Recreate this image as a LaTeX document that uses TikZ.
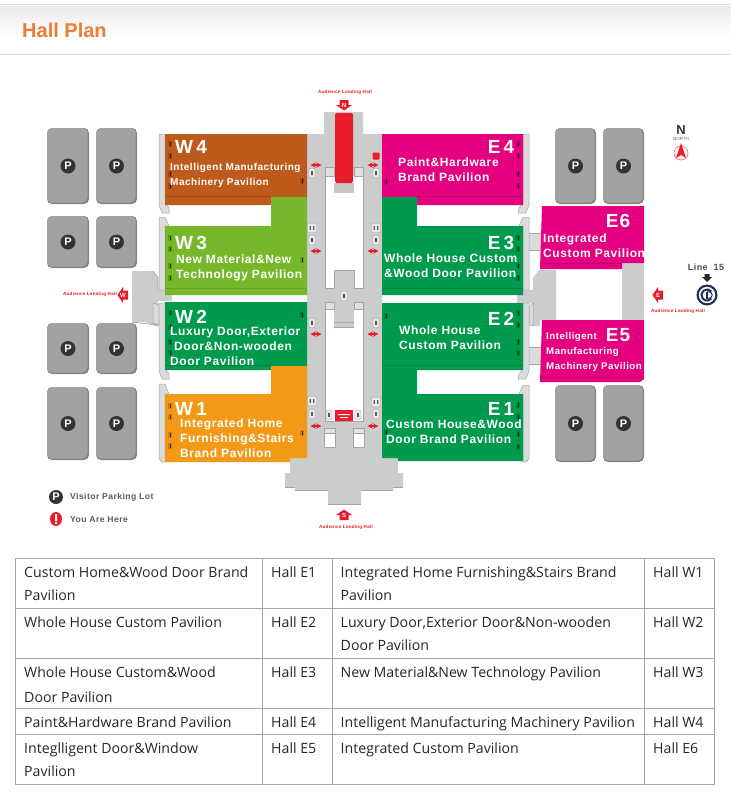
\documentclass[tikz,border=0pt]{standalone}
\usepackage{fontspec}
\usetikzlibrary{positioning}
\setmainfont{Liberation Sans}
\newfontfamily\mapfont[LetterSpace=5]{Liberation Sans}
\newfontfamily\tabfont{Open Sans}
\definecolor{hallW4}{HTML}{BE5B1C}
\definecolor{hallW3}{HTML}{76B82A}
\definecolor{hallgreen}{HTML}{009A4E}
\definecolor{hallW1}{HTML}{F29A17}
\definecolor{hallpink}{HTML}{E4007F}
\definecolor{mapred}{HTML}{E81C2A}
\definecolor{floorgrey}{HTML}{CBCCCC}
\definecolor{edgegrey}{HTML}{A3A4A4}
\definecolor{lotgrey}{HTML}{A2A2A2}
\definecolor{navyline}{HTML}{1D2D5C}
\definecolor{headorange}{HTML}{EE7C35}
\tikzset{
  hallname/.style={text=white,anchor=center,inner sep=0pt,font=\mapfont\bfseries\fontsize{19}{19}\selectfont},
  halltext/.style={text=white,anchor=west,align=left,inner sep=0pt,font=\mapfont\bfseries\fontsize{12}{15}\selectfont},
  parkmark/.style={circle,fill=black!80,text=white,inner sep=0pt,minimum size=15pt,font=\bfseries\fontsize{11}{11}\selectfont},
  liftbox/.style={rounded corners=1pt,fill=black!8,draw=edgegrey,line width=.4pt,minimum width=6pt,minimum height=9pt,inner sep=0pt},
  landing/.style={text=mapred,inner sep=0pt,font=\mapfont\bfseries\fontsize{4.6}{5}\selectfont},
  legendtext/.style={text=black!65,anchor=west,inner sep=0pt,font=\mapfont\bfseries\fontsize{8.6}{9}\selectfont},
  cell/.style={anchor=base west,inner sep=0pt,text=black!85,font=\tabfont\fontsize{14.15}{16}\selectfont},
  slab/.style={fill=black!14,draw=edgegrey,line width=.5pt},
  roofcap/.style={fill=black!12,draw=edgegrey,line width=.5pt},
}
% one parking lot with its mark
\newcommand{\parklot}[5]{
  \fill[lotgrey!82!black,rounded corners=5pt] (#1,#2) rectangle (#3,#4);
  \fill[lotgrey,rounded corners=5pt] (#1,#2) rectangle (#3-1.5,#4-1.5);
  \node[parkmark] (#5) at ({(#1+#3)/2},{(#2+#4)/2}) {P};
}
% entrance arrow with its letter
\newcommand{\gatemark}[4]{
  \begin{scope}[shift={(#1,#2)},rotate=#3]
    \fill[mapred] (-5,-4.5)--(0,-4.5)--(0,-8)--(5.5,0)--(0,8)--(0,4.5)--(-5,4.5)--cycle;
  \end{scope}
  \node[text=white,inner sep=0pt,font=\bfseries\fontsize{6}{6}\selectfont] (gate#4) at (#1,#2) {#4};
}
\begin{document}
\begin{tikzpicture}[x=1pt,y=-1pt,>=stealth,line join=round]
\useasboundingbox (0,0) rectangle (731,798);
% page head
\shade[top color=black!8,bottom color=white] (0,6) rectangle (731,36);
\draw[black!14,line width=1pt] (0,4.5)--(731,4.5);
\draw[black!14,line width=.8pt] (0,54)--(731,54);
\node[anchor=west,inner sep=0pt,text=headorange,font=\fontsize{20}{20}\bfseries\selectfont] (title) at (22,30) {Hall Plan};
% floor
\fill[floorgrey] (324,112)--(363,112)--(363,134)--(382,134)--(382,458)--(398,458)--(398,473)--(403,473)--(403,487)--(393,487)--(393,490)--(361,490)--(361,504)--(328,504)--(328,490)--(295,490)--(295,487)--(285,487)--(285,473)--(290,473)--(290,458)--(307,458)--(307,134)--(324,134)--cycle;
\draw[edgegrey,line width=1pt] (285,487)--(295,487) (295,490)--(328,490) (328,504)--(361,504) (361,490)--(393,490) (393,487)--(403,487);
\fill[floorgrey] (132,271)--(153,271)--(158,278)--(158,289)--(172,289)--(172,301)--(158,301)--(158,327)--(145,322)--(132,322)--cycle;
\draw[edgegrey,line width=.8pt] (132,322)--(157,325) (153,271)--(158,278)--(158,289);
\draw[slab] (153,303)--(159,305)--(159,325)--(153,323)--cycle;
\fill[floorgrey] (556,270)--(539,270)--(533,278)--(533,290)--(517,290)--(517,303)--(533,303)--(533,326)--(540,326)--(540,320)--(556,320)--cycle;
\draw[slab] (533,303)--(529,307)--(529,325)--(533,326)--cycle;
\fill[floorgrey] (622,263) rectangle (644,320);
\draw[slab] (528,233) rectangle (541,250);
\draw[slab] (528,347) rectangle (541,364);
% voids in the middle
\fill[white] (325,176) rectangle (363,288);
\fill[white] (325,309) rectangle (363,421);
\draw[edgegrey,line width=.5pt] (325,176)--(325,288)--(334,288) (363,176)--(363,288)--(354,288);
\draw[edgegrey,line width=.5pt] (325,309)--(325,421)--(363,421)--(363,309);
\fill[floorgrey] (334,270) rectangle (354,288) (334,300) rectangle (354,327);
\draw[edgegrey,line width=.5pt] (334,288)--(334,270)--(354,270)--(354,288) (334,327)--(354,327) (334,322)--(354,322);
\draw[roofcap] (325,167) rectangle (334,176) (354,167) rectangle (363,176);
\draw[roofcap] (325,302) rectangle (334,309) (354,302) rectangle (363,309);
\draw[roofcap] (324,428) rectangle (335,433) (353,428) rectangle (364,433);
\fill[white] (324,433) rectangle (335,447) (353,433) rectangle (364,447);
\draw[edgegrey,line width=.5pt] (324,433) rectangle (335,447) (353,433) rectangle (364,447);
\fill[black!22] (334,183) rectangle (354,193);
\fill[mapred,rounded corners=1.5pt] (335,113) rectangle (353,183);
% red sign at the south end
\fill[mapred] (335,410) rectangle (353,421);
\fill[white] (338,414) rectangle (350,415.2) (340,417) rectangle (348,418.2);
% side slabs of the halls
\draw[slab] (159,134)--(165,134)--(165,203)--(169,208)--(169,213)--(162,213)--(159,205)--cycle;
\draw[slab] (159,217)--(165,217)--(169,226)--(165,226)--(165,290)--(159,290)--cycle;
\draw[slab] (159,303)--(165,303)--(165,369)--(169,374)--(169,379)--(162,379)--(159,371)--cycle;
\draw[slab] (159,384)--(165,384)--(169,394)--(165,394)--(165,462)--(162,462)--(159,459)--cycle;
\draw[slab] (529,134)--(523,134)--(523,203)--(519,208)--(518,213)--(526,213)--(529,205)--cycle;
\draw[slab] (529,217)--(523,217)--(519,226)--(523,226)--(523,290)--(529,290)--cycle;
\draw[slab] (529,303)--(523,303)--(523,369)--(519,374)--(518,379)--(526,379)--(529,371)--cycle;
\draw[slab] (529,385)--(523,385)--(519,394)--(523,394)--(523,462)--(526,462)--(529,459)--cycle;
% west halls
\fill[hallW4] (165,134)--(307,134)--(307,197)--(271,197)--(271,205)--(165,205)--cycle;
\draw[hallW4!85!black,line width=.6pt] (165,196)--(271,196);
\fill[hallW3] (271,197)--(307,197)--(307,295)--(165,295)--(165,226)--(271,226)--cycle;
\draw[hallW3!85!black,line width=.6pt] (165,288)--(307,288);
\fill[hallgreen] (165,302)--(307,302)--(307,366)--(271,366)--(271,370)--(165,370)--cycle;
\draw[hallgreen!85!black,line width=.6pt] (165,365)--(271,365);
\fill[hallW1] (271,366)--(307,366)--(307,458)--(290,458)--(290,462)--(165,462)--(165,394)--(271,394)--cycle;
% east halls
\fill[hallpink] (382,134)--(523,134)--(523,205)--(417,205)--(417,197)--(382,197)--cycle;
\draw[hallpink!85!black,line width=.6pt] (417,196)--(523,196);
\fill[hallgreen] (382,197)--(417,197)--(417,226)--(523,226)--(523,295)--(382,295)--cycle;
\draw[hallgreen!85!black,line width=.6pt] (382,288)--(523,288);
\fill[hallgreen] (382,303)--(523,303)--(523,370)--(417,370)--(417,365)--(382,365)--cycle;
\fill[hallgreen] (382,365)--(417,365)--(417,394)--(523,394)--(523,461)--(398,461)--(398,458)--(382,458)--cycle;
\draw[hallgreen!85!black,line width=.6pt] (382,365)--(523,365);
\fill[hallpink] (542,206)--(644,206)--(644,263)--(622,263)--(622,269)--(540,269)--cycle;
\draw[hallpink!85!black,line width=.6pt] (540,263)--(622,263);
\fill[hallpink] (542,320)--(644,320)--(644,379)--(640,382)--(540,382)--cycle;
\draw[hallpink!85!black,line width=.6pt] (540,377)--(642,377);
% small marks along the hall walls
\foreach \mx/\my in {170/144,170/156,170/174,170/186,302/181,170/238,170/249,170/266,170/278,302/260,170/313,170/327,170/342,170/353,302/315,170/406,170/417,170/435,170/446,302/433,518/144,518/156,518/174,518/186,386/182,518/238,518/249,518/266,518/278,518/313,518/325,518/342,518/353,386/316,518/405,518/417,518/434,518/447,386/432}{
  \fill[black,opacity=.18] (\mx-2,\my-3) rectangle (\mx+2,\my+3);
  \fill[black,opacity=.6] (\mx-.5,\my-2) rectangle (\mx+.5,\my+2);
}
\foreach \lx/\ly in {312/173,312/240,344/296,312/323,312/414,329/415,358/415,376/173,376/240,376/323,376/414}{
  \node[liftbox] (lift\lx\ly) at (\lx,\ly) {};
  \fill[black!65] (\lx-.6,\ly-2) rectangle (\lx+.6,\ly+2);
}
\foreach \lx/\ly in {312/228,312/401,376/228,376/402}{
  \node[liftbox,minimum width=9pt] (lift\lx\ly) at (\lx,\ly) {};
  \fill[black!65] (\lx-2.4,\ly-2) rectangle (\lx-1.2,\ly+2) (\lx+1.2,\ly-2) rectangle (\lx+2.4,\ly+2);
}
\node[fill=mapred,rounded corners=1pt,minimum size=7pt,inner sep=0pt] (toilet) at (376,156) {};
% passages
\foreach \ax in {316,373}
  \foreach \ay in {165,251,334,426}
    \draw[<->,mapred,line width=1.3pt] (\ax-5.5,\ay)--(\ax+5.5,\ay);
% hall names
\node[hallname] (W4) at (191,147) {W\,4};
\node[hallname] (W3) at (191,243) {W\,3};
\node[hallname] (W2) at (191,316.5) {W\,2};
\node[hallname] (W1) at (191,409) {W\,1};
\node[hallname] (E4) at (501,147) {E\,4};
\node[hallname] (E3) at (501,243) {E\,3};
\node[hallname] (E2) at (501,319) {E\,2};
\node[hallname] (E1) at (501,409) {E\,1};
\node[hallname] (E6) at (618,221) {E6};
\node[hallname] (E5) at (618,335) {E5};
% hall texts
\node[halltext,font=\mapfont\bfseries\fontsize{10}{15}\selectfont] (textW4) at (170,175.5) {Intelligent Manufacturing\\Machinery Pavilion};
\node[halltext] (textW3) at (176,267.5) {New Material\&New\\Technology Pavilion};
\node[halltext] (textW2) at (170,346.5) {Luxury Door,Exterior\\\hspace{4pt}Door\&Non-wooden\\Door Pavilion};
\node[halltext] (textW1) at (180,438) {Integrated Home\\Furnishing\&Stairs\\Brand Pavilion};
\node[halltext] (textE4) at (398,169.5) {Paint\&Hardware\\Brand Pavilion};
\node[halltext] (textE3) at (384,265.5) {Whole House Custom\\\&Wood Door Pavilion};
\node[halltext] (textE2) at (399,337.5) {Whole House\\Custom Pavilion};
\node[halltext] (textE1) at (386,431.5) {Custom House\&Wood\\Door Brand Pavilion};
\node[halltext] (textE6) at (543,245.5) {Integrated\\Custom Pavilion};
\node[halltext,font=\mapfont\bfseries\fontsize{9.7}{15}\selectfont] (textE5) at (546,352) {Intelligent\\Manufacturing\\Machinery Pavilion};
% parking
\parklot{47}{128}{89}{204}{lotA}
\parklot{96}{128}{137}{204}{lotB}
\parklot{47}{216}{89}{268}{lotC}
\parklot{96}{216}{137}{268}{lotD}
\parklot{47}{323}{89}{374}{lotE}
\parklot{96}{323}{137}{374}{lotF}
\parklot{47}{387}{89}{460}{lotG}
\parklot{96}{387}{137}{460}{lotH}
\parklot{555}{128}{596}{204}{lotI}
\parklot{603}{128}{644}{204}{lotJ}
\parklot{555}{385}{596}{462}{lotK}
\parklot{603}{385}{644}{462}{lotL}
% entrances
\gatemark{344}{105}{270}{N}
\gatemark{344}{515}{90}{S}
\gatemark{123}{295}{180}{W}
\gatemark{658}{295}{180}{E}
\node[landing] (landN) at (345,92) {Audience Landing Hall};
\node[landing] (landS) at (346,527) {Audience Landing Hall};
\node[landing] (landW) at (90,294) {Audience Landing Hall};
\node[landing] (landE) at (678,311) {Audience Landing Hall};
% north sign
\node[inner sep=0pt,font=\bfseries\fontsize{13}{13}\selectfont,text=black!80] (north) at (681,130) {N};
\node[inner sep=0pt,font=\fontsize{4.5}{5}\selectfont,text=black!60,below=2.5pt of north.south] (northsmall) {NORTH};
\draw[mapred!60,line width=.7pt] (681,153) circle (7);
\fill[mapred] (681,143)--(686,158)--(681,155)--(676,158)--cycle;
% metro
\node[inner sep=0pt,text=black!70,font=\mapfont\bfseries\fontsize{9}{9}\selectfont] (line15) at (706,267) {Line\ \ 15};
\fill[black!85] (704.5,274)--(709.5,274)--(709.5,277)--(712,277)--(707,282)--(702,277)--(704.5,277)--cycle;
\fill[navyline] (707,295) circle (10.5);
\fill[white] (707,295) circle (8.2);
\draw[navyline,line width=2pt] (711.3,291.4) arc[start angle=40,end angle=320,radius=5.6pt];
\fill[navyline] (706,291.5) rectangle (708,298.5);
\draw[navyline,line width=1pt] (707,291.8) -- (709,291.8) arc[start angle=90,end angle=-90,radius=3.2pt] -- (707,298.2);
% legend
\node[parkmark,minimum size=14pt] (keyP) at (56,497) {P};
\node[legendtext] (keyPtext) at (70,497.5) {Visitor Parking Lot};
\fill[mapred] (56,519) ellipse (6 and 7);
\fill[white] (55,514) rectangle (57,521) (55,522) rectangle (57,524);
\node[legendtext] (keyHtext) at (70,519.5) {You Are Here};
% table
\draw[black!35,line width=.9pt] (15.5,558.7) rectangle (714.5,784.5);
\foreach \ty in {608.3,658.3,708.3,734.3}
  \draw[black!35,line width=.9pt] (15.5,\ty)--(714.5,\ty);
\foreach \tx in {262.5,332.5,644.5}
  \draw[black!35,line width=.9pt] (\tx,558.7)--(\tx,784.5);
\foreach \cx/\cy/\ctxt [count=\i] in {
  24/577/{Custom Home\&Wood Door Brand},24/600.7/{Pavilion},271/577/{Hall E1},
  340.5/577/{Integrated Home Furnishing\&Stairs Brand},340.5/600.7/{Pavilion},653/577/{Hall W1},
  24/627/{Whole House Custom Pavilion},271/627/{Hall E2},
  340.5/627/{Luxury Door,Exterior Door\&Non-wooden},340.5/650.7/{Door Pavilion},653/627/{Hall W2},
  24/677/{Whole House Custom\&Wood},24/702.5/{Door Pavilion},271/677/{Hall E3},
  340.5/677/{New Material\&New Technology Pavilion},653/677/{Hall W3},
  24/727/{Paint\&Hardware Brand Pavilion},271/727/{Hall E4},
  340.5/727/{Intelligent Manufacturing Machinery Pavilion},653/727/{Hall W4},
  24/753/{Integlligent Door\&Window},24/776.7/{Pavilion},271/753/{Hall E5},
  340.5/753/{Integrated Custom Pavilion},653/753/{Hall E6}}
  \node[cell] (cell\i) at (\cx,\cy) {\ctxt};
\end{tikzpicture}
\end{document}
